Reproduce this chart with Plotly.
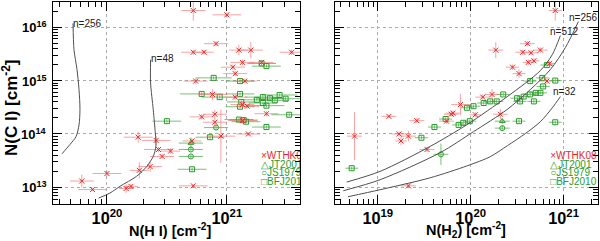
import numpy as np
import plotly.graph_objects as go
from plotly.subplots import make_subplots

# ---------------- data (log10 values) ----------------
# Left panel: N(H I) vs N(C I)
L_red_x = [20.72, 21.00, 20.91, 20.72, 20.81, 21.10, 21.20, 21.54, 21.13, 21.05, 21.29, 21.07, 20.74, 21.15,
           20.88, 21.07, 21.13, 21.17, 21.33, 20.90, 20.79, 20.90, 21.13, 21.18, 20.95, 20.26, 20.41, 20.43,
           20.53, 20.46, 20.71, 19.79, 19.88, 20.00, 20.27, 20.36, 20.16, 20.20, 20.72]
L_red_y = [16.31, 16.23, 15.69, 15.53, 15.53, 15.57, 15.57, 15.53, 15.34, 15.25, 15.34, 15.13, 14.99, 14.99,
           14.74, 14.69, 14.55, 14.52, 14.38, 14.37, 14.32, 14.22, 14.25, 14.00, 13.96, 13.94, 13.88, 13.71,
           13.68, 13.58, 13.87, 13.12, 12.96, 13.26, 13.32, 13.39, 12.98, 13.02, 13.03]
L_red_ex = [.10, .12, .10, .10, .08, .08, .10, .10, .10, .10, .10, .10, .10, .10,
            .12, .10, .10, .10, .10, .10, .10, .10, .12, .10, .12, .12, .12, .12,
            .08, .10, .08, .10, .12, .12, .08, .10, .06, .06, .12]
L_red_ey = [.19, .05, .05, .05, .05, .10, .15, .05, .05, .05, .05, .05, .05, .05,
            .10, .05, .05, .05, .05, .08, .05, .08, .05, .03, .50, .10, .08, .05,
            .05, .05, .05, .12, .03, .05, .15, .10, .08, .05, .03]

L_sq_x = [20.89, 20.79, 20.94, 21.11, 21.11, 21.33, 21.29, 20.50, 21.30, 21.36, 21.44, 21.49, 21.30, 21.33,
          21.25, 21.40, 21.52, 21.33, 21.10, 21.16, 21.14, 20.86, 20.71, 21.11, 21.12]
L_sq_y = [15.05, 14.75, 14.69, 14.75, 14.99, 15.27, 15.32, 14.24, 14.69, 14.67, 14.73, 14.66, 14.58, 14.53,
          14.64, 14.63, 14.36, 14.13, 14.27, 14.23, 14.26, 13.94, 13.34, 14.51, 14.60]
L_sq_ex = [.15, .18, .15, .12, .12, .12, .12, .12, .15, .12, .15, .12, .12, .15,
           .12, .12, .15, .12, .12, .12, .12, .12, .12, .12, .12]
L_sq_ey = [.03] * 25

L_ci_x = [20.70, 20.70, 20.91]
L_ci_y = [13.71, 13.58, 14.12]
L_tr_x = [20.70]
L_tr_y = [13.83]

# Left model curves
L_n256_x = [19.717, 19.725, 19.75, 19.767, 19.775, 19.767, 19.742, 19.69, 19.625]
L_n256_y = [16.07, 15.58, 15.21, 14.83, 14.46, 14.17, 13.95, 13.80, 13.63]
L_n48_x = [20.364, 20.364, 20.386, 20.403, 20.408, 20.386, 20.331, 20.248, 20.108, 20.025, 19.93]
L_n48_y = [15.39, 14.955, 14.455, 14.02, 13.77, 13.58, 13.39, 13.21, 13.02, 12.895, 12.80]

# Right panel: N(H2) vs N(C I)
R_red_x = [20.91, 20.61, 20.27, 20.56, 20.65, 20.75, 20.68, 20.62, 20.45, 20.52, 20.82, 20.85, 20.23, 20.13,
           19.89, 19.81, 19.79, 20.32, 20.05, 19.12, 19.42, 19.74, 19.23, 19.33, 19.25, 18.75, 19.53, 19.33]
R_red_y = [16.31, 15.69, 15.57, 15.53, 15.52, 15.57, 15.37, 15.34, 15.25, 15.13, 14.99, 15.32, 14.74, 14.69,
           14.55, 14.39, 14.37, 14.37, 14.36, 14.33, 14.25, 14.24, 14.00, 13.96, 13.87, 13.96, 13.71, 13.03]
R_red_ex = [.07, .08, .08, .08, .08, .08, .06, .06, .07, .07, .08, .06, .08, .08,
            .10, .08, .08, .08, .06, .08, .08, .08, .08, .08, .06, .08, .08, .08]
R_red_ey = [.19, .05, .15, .05, .05, .05, .05, .05, .05, .08, .05, .05, .10, .05,
            .20, .05, .05, .10, .05, .03, .05, .05, .05, .10, .08, .45, .05, .03]

R_sq_x = [20.82, 20.77, 20.91, 20.64, 20.50, 20.57, 20.64, 20.70, 20.75, 20.53, 20.68, 20.78, 20.35, 20.28,
          20.21, 20.14, 20.03, 19.96, 19.99, 19.92, 19.87, 20.52, 20.91, 19.73, 19.61, 19.47, 18.72]
R_sq_y = [15.29, 15.05, 15.00, 14.99, 14.67, 14.70, 14.74, 14.77, 14.77, 14.61, 14.61, 14.89, 14.74, 14.61,
          14.61, 14.58, 14.52, 14.49, 14.24, 14.21, 14.17, 14.24, 14.22, 14.28, 14.13, 13.93, 13.36]
R_sq_ex = [.07] * 27
R_sq_ey = [.03] * 27

R_ci_x = [20.34, 19.68]
R_ci_y = [14.11, 13.62]
R_ci_ey = [.05, .20]
R_tr_x = [20.34]
R_tr_y = [14.24]

# Right model curves
R_n512_x = [18.666, 19.025, 19.564, 19.959, 20.393, 20.749, 20.878, 20.965]
R_n512_y = [13.101, 13.30, 13.768, 14.174, 14.698, 15.185, 15.485, 15.841]
R_n256_x = [18.629, 19.025, 19.671, 20.030, 20.39, 20.641, 20.857, 21.019, 21.159]
R_n256_y = [12.938, 13.144, 13.650, 14.043, 14.455, 14.83, 15.205, 15.617, 16.104]
R_n32_x = [18.68, 19.025, 19.564, 19.963, 20.21, 20.394, 20.587, 20.75, 20.878, 20.965]
R_n32_y = [12.826, 12.957, 13.18, 13.405, 13.575, 13.78, 14.006, 14.23, 14.49, 14.70]

y_tickvals = [13, 14, 15, 16]
y_ticktext = ["10<sup>13</sup>", "10<sup>14</sup>", "10<sup>15</sup>", "10<sup>16</sup>"]

legend_labels = ["\u00d7WTHK08", "\u25b3JT2001", "\u25cbJS1979", "\u25a1BFJ2010"]
legend_colors = ["#e8262a", "#2a9a2a", "#2a9a2a", "#2a9a2a"]
legend_y = [13.575, 13.41, 13.26, 13.09]

RED = "#e02a2a"
RED_ERR = "rgba(250,110,110,0.65)"
GRN = "#2a9a2a"
GRN_ERR = "rgba(60,170,60,0.7)"
CURVE = "#505050"
FONT = "Liberation Sans"

def lin(v):
    return [10 ** a for a in v]

def err(v, e):
    plus = [10 ** (a + b) - 10 ** a for a, b in zip(v, e)]
    minus = [10 ** a - 10 ** (a - b) for a, b in zip(v, e)]
    return plus, minus

def pts(lx, ly, ex, ey, symbol, color, ecolor, size):
    xp, xm = err(lx, ex)
    yp, ym = err(ly, ey)
    return go.Scatter(
        x=lin(lx), y=lin(ly), mode="markers",
        marker=dict(symbol=symbol, size=size, color=color, line=dict(color=color, width=1)),
        error_x=dict(type="data", array=xp, arrayminus=xm, color=ecolor, thickness=1, width=0),
        error_y=dict(type="data", array=yp, arrayminus=ym, color=ecolor, thickness=1, width=0),
        showlegend=False, hoverinfo="skip")

fig = make_subplots(rows=1, cols=2, shared_yaxes=False)

# Left panel
fig.add_trace(pts(L_sq_x, L_sq_y, L_sq_ex, L_sq_ey, "square-open", GRN, GRN_ERR, 5), 1, 1)
fig.add_trace(pts(L_ci_x, L_ci_y, [.1] * 3, [.03] * 3, "circle-open", GRN, GRN_ERR, 5), 1, 1)
fig.add_trace(pts(L_tr_x, L_tr_y, [.1], [.1], "triangle-up-open", GRN, GRN_ERR, 5), 1, 1)
fig.add_trace(pts(L_red_x, L_red_y, L_red_ex, L_red_ey, "x-thin-open", RED, RED_ERR, 5), 1, 1)
for cx, cy in [(L_n256_x, L_n256_y), (L_n48_x, L_n48_y)]:
    fig.add_trace(go.Scatter(x=lin(cx), y=lin(cy), mode="lines",
                             line=dict(color=CURVE, width=1, shape="spline", smoothing=0.8),
                             showlegend=False, hoverinfo="skip"), 1, 1)

# Right panel
fig.add_trace(pts(R_sq_x, R_sq_y, R_sq_ex, R_sq_ey, "square-open", GRN, GRN_ERR, 5), 1, 2)
fig.add_trace(pts(R_ci_x, R_ci_y, [.08, .08], R_ci_ey, "circle-open", GRN, GRN_ERR, 5), 1, 2)
fig.add_trace(pts(R_tr_x, R_tr_y, [.08], [.05], "triangle-up-open", GRN, GRN_ERR, 5), 1, 2)
fig.add_trace(pts(R_red_x, R_red_y, R_red_ex, R_red_ey, "x-thin-open", RED, RED_ERR, 5), 1, 2)
for cx, cy in [(R_n512_x, R_n512_y), (R_n256_x, R_n256_y), (R_n32_x, R_n32_y)]:
    fig.add_trace(go.Scatter(x=lin(cx), y=lin(cy), mode="lines",
                             line=dict(color=CURVE, width=1, shape="spline", smoothing=0.8),
                             showlegend=False, hoverinfo="skip"), 1, 2)

# Legends (clipped text traces)
for col, lx in [(1, 21.285), (2, 20.855)]:
    for lab, c, yy in zip(legend_labels, legend_colors, legend_y):
        fig.add_trace(go.Scatter(x=[10 ** lx], y=[10 ** yy], mode="text", text=[lab],
                                 textposition="middle right",
                                 textfont=dict(family=FONT, size=10, color=c),
                                 cliponaxis=True, showlegend=False, hoverinfo="skip"), 1, col)

# Curve labels
def lab(xref, yref, x, y, t):
    fig.add_annotation(xref=xref, yref=yref, x=x, y=y, text=t, showarrow=False, xanchor="left",
                       yanchor="middle", font=dict(family=FONT, size=10, color="#202020"),
                       borderpad=0)

lab("x", "y", 19.71, 16.07, "n=256")
lab("x", "y", 20.36, 15.41, "n=48")
lab("x2", "y2", 21.05, 16.18, "n=256")
lab("x2", "y2", 20.84, 15.92, "n=512")
lab("x2", "y2", 20.88, 14.79, "n=32")

tickfont = dict(family=FONT, size=13, color="black", weight="bold")
xtitlefont = dict(family=FONT, size=14.5, color="black", weight="bold")
ytitlefont = dict(family=FONT, size=17, color="black", weight="bold")
common = dict(type="log", showline=True, linecolor="black", linewidth=1, mirror="allticks",
              ticks="inside", ticklen=9, tickcolor="black", dtick=1, exponentformat="power",
              showgrid=True, gridcolor="#aaaaaa", griddash="dot", gridwidth=1, zeroline=False,
              minor=dict(ticks="inside", ticklen=5, tickcolor="black", dtick="D1", showgrid=False),
              tickfont=tickfont, automargin=False)

H = 241
ydom = [(H - 204) / H, (H - 2) / H]
fig.update_xaxes(common, row=1, col=1, domain=[53 / 600, 300 / 600], range=[19.55, 21.61])
fig.update_xaxes(common, row=1, col=2, domain=[335 / 600, 598 / 600], range=[18.54, 21.37])
fig.update_yaxes(common, row=1, col=1, domain=ydom, range=[12.69, 16.47], showticklabels=False)
fig.update_yaxes(common, row=1, col=2, domain=ydom, range=[12.69, 16.47], showticklabels=False)

# Y tick labels placed next to the left axis
for tv, tt in zip(y_tickvals, y_ticktext):
    fig.add_annotation(xref="paper", yref="y", x=48 / 600, y=tv, text=tt, showarrow=False,
                       xanchor="right", yanchor="middle", font=tickfont, borderpad=0)

# Axis titles as paper annotations
fig.add_annotation(xref="paper", yref="paper", x=170 / 600, y=(H - 229.5) / H, text="N(H I) [cm<sup>-2</sup>]",
                   showarrow=False, font=xtitlefont, xanchor="center", yanchor="middle")
fig.add_annotation(xref="paper", yref="paper", x=466 / 600, y=(H - 229.5) / H, text="N(H<sub>2</sub>) [cm<sup>-2</sup>]",
                   showarrow=False, font=xtitlefont, xanchor="center", yanchor="middle")
fig.add_annotation(xref="paper", yref="paper", x=10 / 600, y=(H - 108) / H, text="N(C I) [cm<sup>-2</sup>]",
                   showarrow=False, font=ytitlefont, xanchor="center", yanchor="middle", textangle=-90)

fig.update_layout(width=600, height=241, margin=dict(l=0, r=0, t=0, b=0),
                  plot_bgcolor="white", paper_bgcolor="white", showlegend=False, hovermode=False)

fig.write_html("out.html", config={"displayModeBar": False, "staticPlot": True},
               post_script="document.body.style.margin='0px';document.body.style.padding='0px';")
